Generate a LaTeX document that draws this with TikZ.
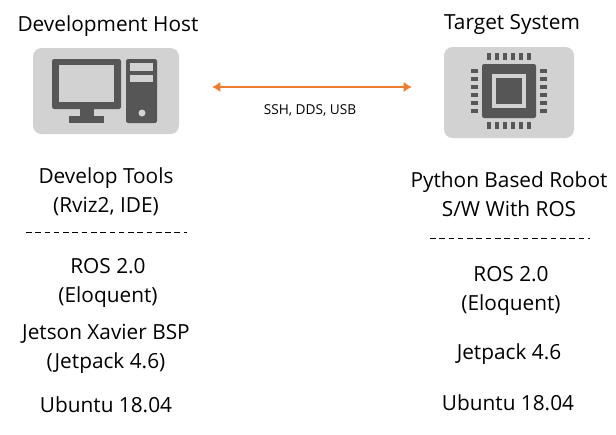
\documentclass[tikz,border=0pt]{standalone}
\usepackage{fontspec}
\setmainfont{Open Sans}
\usepackage{tikz}
\usetikzlibrary{arrows.meta}
\definecolor{iconbg}{HTML}{D2D2D2}
\definecolor{icondark}{HTML}{565656}
\definecolor{linkorange}{HTML}{ED7D31}
\tikzset{
  label/.style={inner sep=0pt, align=center, font=\fontsize{14.8}{20.6}\selectfont},
  smalllabel/.style={inner sep=0pt, font=\fontsize{9.7}{10}\selectfont},
  iconbox/.style={fill=iconbg, rounded corners=8.5*0.025cm},
  icon/.style={fill=icondark},
  sep/.style={dash pattern=on 4pt off 2.6pt, line width=0.7pt},
  link/.style={{Latex[length=6pt,width=7.5pt]}-{Latex[length=6pt,width=7.5pt]}, linkorange, line width=2pt}
}
\begin{document}
\begin{tikzpicture}[x=0.025cm,y=-0.025cm]
    \useasboundingbox (0,0) rectangle (616,434);

    % host icon
    \fill[iconbox] (33,48) rectangle (179,134);
    \fill[icon, rounded corners=1.5pt] (52,59) rectangle (121,109);
    \fill[iconbg] (59,65) rectangle (114,102);
    \fill[icon] (80,109) rectangle (94,116);
    \fill[icon] (69,116) rectangle (104,123);
    \fill[icon, rounded corners=1.5pt] (126,59) rectangle (157,123);
    \fill[iconbg] (130,63) rectangle (153,71);
    \fill[iconbg] (130,75) rectangle (153,82);
    \fill[iconbg] (142,113) circle (3.5);

    % target icon
    \fill[iconbox] (444,47) rectangle (574,138);
    \fill[icon, rounded corners=1.5pt] (482,64) rectangle (536,118);
    \fill[iconbg] (492,74) rectangle (526,108);
    \fill[icon] (496,78) rectangle (522,104);
    \foreach \i in {0,...,5} {
      \fill[icon] (487+8*\i,53) rectangle (491+8*\i,60);
      \fill[icon] (487+8*\i,122) rectangle (491+8*\i,129);
      \fill[icon] (471,69+8*\i) rectangle (478,73+8*\i);
      \fill[icon] (540,69+8*\i) rectangle (547,73+8*\i);
    }

    \node[label] (host) at (108,26) {Development Host};
    \node[label] (target) at (512,24) {Target System};

    \coordinate (linkl) at (212,87);
    \coordinate (linkr) at (412,87);
    \draw[link] (linkl) -- (linkr);
    \node[smalllabel] (proto) at (310,110) {SSH, DDS, USB};

    \node[label] (tools) at (106,192) {Develop Tools\\(Rviz2, IDE)};
    \node[label] (robot) at (509,194.5) {Python Based Robot\\S/W With ROS};

    \coordinate (sepl1) at (26,232);
    \coordinate (sepl2) at (187,232);
    \coordinate (sepr1) at (430,238);
    \coordinate (sepr2) at (590,238);
    \draw[sep] (sepl1) -- (sepl2);
    \draw[sep] (sepr1) -- (sepr2);

    \node[label] (rosl) at (108,282.5) {ROS 2.0\\(Eloquent)};
    \node[label] (bsp) at (106,348.5) {Jetson Xavier BSP\\(Jetpack 4.6)};
    \node[label] (ubul) at (106,405) {Ubuntu 18.04};

    \node[label] (rosr) at (511,291) {ROS 2.0\\(Eloquent)};
    \node[label] (jet) at (509,354) {Jetpack 4.6};
    \node[label] (ubur) at (508,403) {Ubuntu 18.04};
\end{tikzpicture}
\end{document}
